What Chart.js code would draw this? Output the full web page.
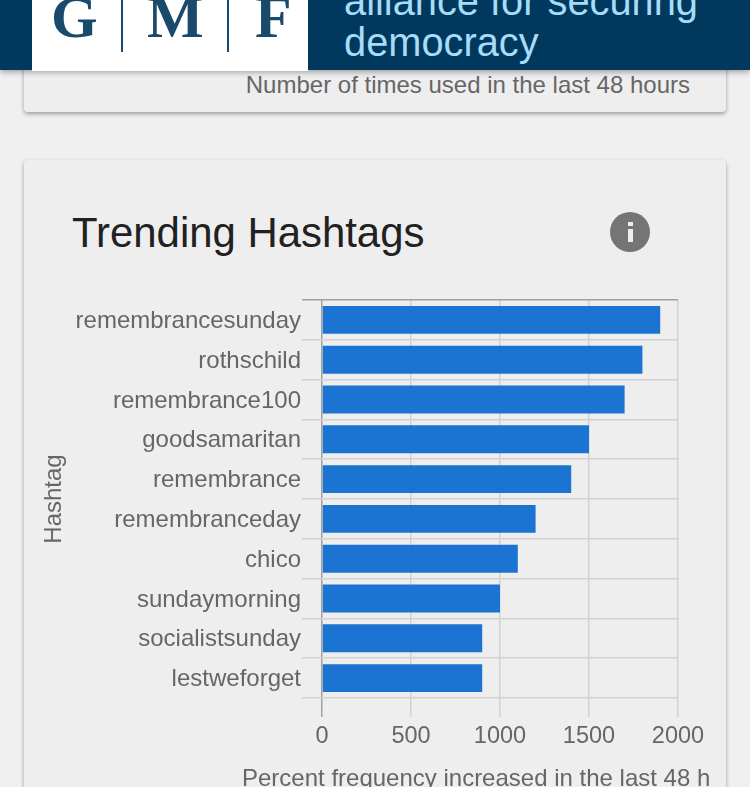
<!DOCTYPE html>
<html>
<head>
<meta charset="utf-8">
<script src="https://cdn.jsdelivr.net/npm/chart.js@4"></script>
<style>
    html, body { margin: 0; padding: 0; }
    body { width: 750px; height: 787px; overflow: hidden; position: relative; background: #f0f0f0; font-family: "Liberation Sans", sans-serif; }
    .header { position: absolute; left: 0; top: 0; width: 750px; height: 70px; background: #00395d; overflow: hidden; z-index: 5; box-shadow: 0 2px 6px rgba(0,0,0,0.35); }
    .logo { position: absolute; left: 32px; top: 0; width: 276px; height: 71px; background: #fff; z-index: 6; overflow: hidden; }
    .logoText { position: absolute; left: 19px; top: -17px; font: bold 60px "Liberation Serif", serif; color: #1a4a6b; white-space: pre; }
    .logoBar { position: absolute; top: 0; width: 2px; height: 52px; background: #1a4a6b; }
    .tagline { position: absolute; left: 344px; top: -19px; font-size: 39.8px; line-height: 41px; color: #a6dcf7; }
    .card { position: absolute; left: 24px; width: 702px; background: #eeeeee; border-radius: 4px; box-shadow: 0 2px 4px rgba(0,0,0,0.35); }
    .caption { position: absolute; right: 36px; top: 71px; font-size: 24px; color: #666; white-space: nowrap; }
    .title { position: absolute; left: 72px; top: 209px; font-size: 41.9px; color: #212121; z-index: 2; }
    .info { position: absolute; left: 610px; top: 212px; width: 40px; height: 40px; border-radius: 50%; background: #757575; color: #eee; z-index: 2; }
    .info .dot { position: absolute; left: 18px; top: 10px; width: 5px; height: 4px; background: #eee; }
    .info .stem { position: absolute; left: 18px; top: 17px; width: 5px; height: 13px; background: #eee; }
    .xTitle { position: absolute; left: 242px; top: 764px; font-size: 24px; color: #666; white-space: nowrap; z-index: 2; }
    #chartWrap { position: absolute; left: 0; top: 280px; width: 750px; height: 520px; z-index: 1; }
</style>
</head>
<body>
<div class="header">
    <div class="tagline">alliance for securing<br>democracy</div>
</div>
<div class="logo">
    <div class="logoText">G</div>
    <div class="logoBar" style="left:89px"></div>
    <div class="logoText" style="left:115px">M</div>
    <div class="logoBar" style="left:195px"></div>
    <div class="logoText" style="left:223px">F</div>
</div>
<div class="card" style="top:0;height:112px"><div class="caption">Number of times used in the last 48 hours</div></div>
<div class="card" style="top:160px;height:700px"></div>
<div class="title">Trending Hashtags</div>
<div class="info"><div class="dot"></div><div class="stem"></div></div>
<div class="xTitle">Percent frequency increased in the last 48 h</div>
<div id="chartWrap"><canvas id="hashtagChart" width="750" height="520"></canvas></div>
<script>
const hashtags = ['remembrancesunday', 'rothschild', 'remembrance100', 'goodsamaritan', 'remembrance',
    'remembranceday', 'chico', 'sundaymorning', 'socialistsunday', 'lestweforget'];
const percentIncrease = [1900, 1800, 1700, 1500, 1400, 1200, 1100, 1000, 900, 900];
const xTicks = [0, 500, 1000, 1500, 2000];

const labelGrey = '#666666';
const lineGrey = '#d2d2d2';
const darkLine = '#a0a0a0';

const ctx = document.getElementById('hashtagChart').getContext('2d');
const chart = new Chart(ctx, {
    type: 'bar',
    data: {
        labels: hashtags,
        datasets: [{
            label: 'Percent frequency increased',
            data: percentIncrease,
            backgroundColor: 'rgba(20, 112, 208, 0.97)',
            categoryPercentage: 0.7,
            barPercentage: 1
        }]
    },
    options: {
        indexAxis: 'y',
        responsive: false,
        animation: false,
        layout: { padding: { left: 40, right: 72, top: 20, bottom: 0 } },
        plugins: { legend: { display: false }, tooltip: { enabled: false } },
        scales: {
            x: {
                min: 0,
                max: 2000,
                afterBuildTicks: function(axis) { axis.ticks = xTicks.map(v => ({ value: v })); },
                afterFit: function(axis) { axis.height = 102; },
                border: { display: false },
                grid: {
                    tickLength: 19,
                    lineWidth: 1.5,
                    color: c => (c.tick && c.tick.value === 0) ? darkLine : lineGrey
                },
                ticks: {
                    color: labelGrey,
                    font: { family: 'Liberation Sans', size: 23.5 },
                    padding: 5,
                    maxRotation: 0,
                    minRotation: 0,
                    callback: value => String(value)
                }
            },
            y: {
                afterFit: function(axis) { axis.width = 282; },
                border: { display: false },
                grid: {
                    offset: true,
                    tickLength: 20,
                    lineWidth: 1.5,
                    color: c => (c.index === 0 ? darkLine : lineGrey)
                },
                ticks: { color: labelGrey, font: { family: 'Liberation Sans', size: 24 }, padding: 1, labelOffset: 1.5, autoSkip: false, maxRotation: 0, minRotation: 0 },
                title: { display: true, text: 'Hashtag', color: labelGrey, font: { family: 'Liberation Sans', size: 24 }, padding: 0 }
            }
        }
    }
});
</script>
</body>
</html>
